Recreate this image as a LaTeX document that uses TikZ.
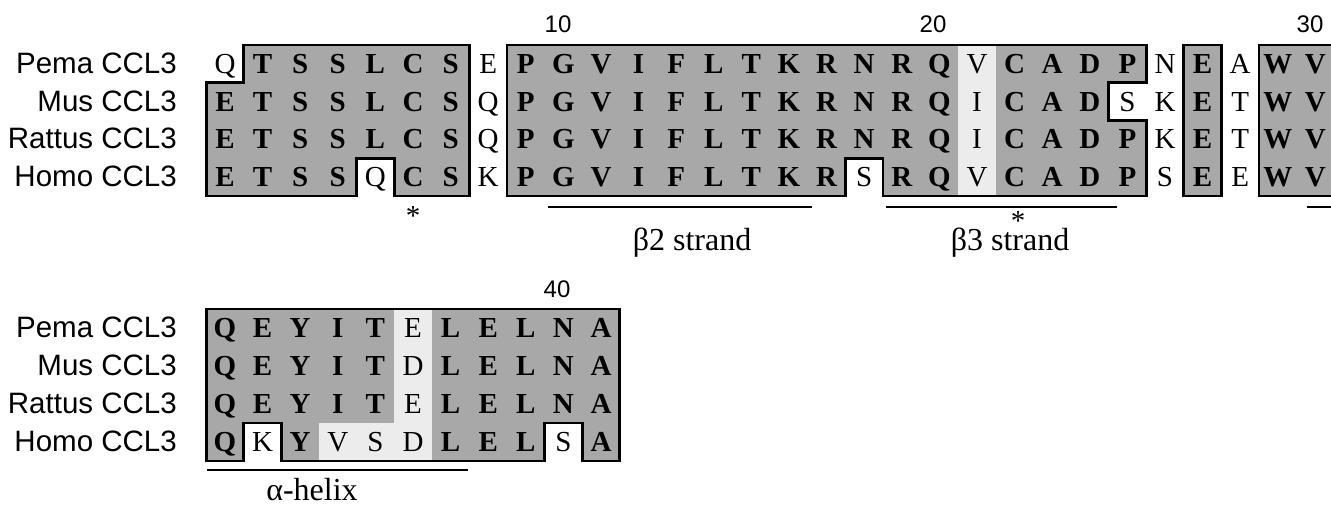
\documentclass[tikz,border=0pt]{standalone}
\usepackage{fontspec}
\setmainfont{Liberation Serif}
\newfontfamily\labfont{Liberation Sans}
\definecolor{darkcell}{RGB}{168,168,168}
\definecolor{lightcell}{RGB}{236,236,236}
% block outlines (in grid units)
\def\blkA{(0.5,0) -- (6.5,0) -- (6.5,4) -- (4.5,4) -- (4.5,3) -- (3.5,3) -- (3.5,4) -- (-0.5,4) -- (-0.5,1) -- (0.5,1) -- cycle}
\def\blkB{(7.5,0) -- (24.5,0) -- (24.5,1) -- (23.5,1) -- (23.5,2) -- (24.5,2) -- (24.5,4) -- (17.5,4) -- (17.5,3) -- (16.5,3) -- (16.5,4) -- (7.5,4) -- cycle}
\def\blkC{(25.5,0) -- (26.5,0) -- (26.5,4) -- (25.5,4) -- cycle}
\def\blkE{(-0.5,0) -- (10.5,0) -- (10.5,4) -- (9.5,4) -- (9.5,3) -- (8.5,3) -- (8.5,4) -- (1.5,4) -- (1.5,3) -- (0.5,3) -- (0.5,4) -- (-0.5,4) -- cycle}
\begin{document}
\begin{tikzpicture}[x=1pt,y=-1pt,
  resn/.style={font=\fontsize{29}{29}\selectfont, inner sep=0pt, anchor=base},
  resb/.style={font=\fontsize{29}{29}\selectfont\bfseries, inner sep=0pt, anchor=base},
  lab/.style={font=\labfont\fontsize{29.5}{29.5}\selectfont, inner sep=0pt, anchor=base east},
  num/.style={font=\labfont\fontsize{24}{24}\selectfont, inner sep=0pt, anchor=base},
  ann/.style={font=\fontsize{32}{32}\selectfont, inner sep=0pt, anchor=base},
  outline/.style={draw=black, line width=2.8pt, line join=miter},
  bar/.style={draw=black, line width=2.8pt},
]
\useasboundingbox (0,0) rectangle (1331,506);
\clip (0,0) rectangle (1331,506);

% ---------- top block ----------
\begin{scope}[shift={(225pt,-45pt)}, x=37.6pt, y=-37.75pt]
  \fill[darkcell] \blkA;
  \fill[darkcell] \blkB;
  \fill[darkcell] \blkC;
  \fill[darkcell] (27.5,0) rectangle (31,4);
  \fill[lightcell] (19.5,0) rectangle (20.5,4);
  \draw[outline] \blkA;
  \draw[outline] \blkB;
  \draw[outline] \blkC;
  \draw[outline] (31,0) -- (27.5,0) -- (27.5,4) -- (31,4);

  \foreach \s/\c [count=\i from 0] in {n/Q,b/T,b/S,b/S,b/L,b/C,b/S,n/E,b/P,b/G,b/V,b/I,b/F,b/L,b/T,b/K,b/R,b/N,b/R,b/Q,n/V,b/C,b/A,b/D,b/P,n/N,b/E,n/A,b/W,b/V}
    {\node[res\s] (a0-\i) at (\i,0.75) {\c};}
  \foreach \s/\c [count=\i from 0] in {b/E,b/T,b/S,b/S,b/L,b/C,b/S,n/Q,b/P,b/G,b/V,b/I,b/F,b/L,b/T,b/K,b/R,b/N,b/R,b/Q,n/I,b/C,b/A,b/D,n/S,n/K,b/E,n/T,b/W,b/V}
    {\node[res\s] (a1-\i) at (\i,1.75) {\c};}
  \foreach \s/\c [count=\i from 0] in {b/E,b/T,b/S,b/S,b/L,b/C,b/S,n/Q,b/P,b/G,b/V,b/I,b/F,b/L,b/T,b/K,b/R,b/N,b/R,b/Q,n/I,b/C,b/A,b/D,b/P,n/K,b/E,n/T,b/W,b/V}
    {\node[res\s] (a2-\i) at (\i,2.75) {\c};}
  \foreach \s/\c [count=\i from 0] in {b/E,b/T,b/S,b/S,n/Q,b/C,b/S,n/K,b/P,b/G,b/V,b/I,b/F,b/L,b/T,b/K,b/R,n/S,b/R,b/Q,n/V,b/C,b/A,b/D,b/P,n/S,b/E,n/E,b/W,b/V}
    {\node[res\s] (a3-\i) at (\i,3.75) {\c};}
\end{scope}

\node[lab] (l1) at (177,73.3) {Pema CCL3};
\node[lab] (l2) at (177,111.1) {Mus CCL3};
\node[lab] (l3) at (177,148.8) {Rattus CCL3};
\node[lab] (l4) at (177,186.6) {Homo CCL3};

\node[num] (n10) at (558,32) {10};
\node[num] (n20) at (933,32) {20};
\node[num] (n30) at (1310,32) {30};

\draw[bar] (548,207) -- (812,207);
\draw[bar] (886,207) -- (1117,207);
\draw[bar] (1307,207) -- (1340,207);

\node[resn] (st1) at (413,225) {\smash{*}};
\node[resn] (st2) at (1018,230) {\smash{*}};
\node[ann] (b2) at (692,250) {β2 strand};
\node[ann] (b3) at (1010,250.5) {β3 strand};

% ---------- bottom block ----------
\begin{scope}[shift={(225pt,-309pt)}, x=37.6pt, y=-38pt]
  \fill[darkcell] \blkE;
  \fill[lightcell] (4.5,0) -- (5.5,0) -- (5.5,4) -- (2.5,4) -- (2.5,3) -- (4.5,3) -- cycle;
  \draw[outline] \blkE;
  \foreach \s/\c [count=\i from 0] in {b/Q,b/E,b/Y,b/I,b/T,n/E,b/L,b/E,b/L,b/N,b/A}
    {\node[res\s] (c0-\i) at (\i,0.75) {\c};}
  \foreach \s/\c [count=\i from 0] in {b/Q,b/E,b/Y,b/I,b/T,n/D,b/L,b/E,b/L,b/N,b/A}
    {\node[res\s] (c1-\i) at (\i,1.75) {\c};}
  \foreach \s/\c [count=\i from 0] in {b/Q,b/E,b/Y,b/I,b/T,n/E,b/L,b/E,b/L,b/N,b/A}
    {\node[res\s] (c2-\i) at (\i,2.75) {\c};}
  \foreach \s/\c [count=\i from 0] in {b/Q,n/K,b/Y,n/V,n/S,n/D,b/L,b/E,b/L,n/S,b/A}
    {\node[res\s] (c3-\i) at (\i,3.75) {\c};}
\end{scope}

\node[lab] (m1) at (177,337.5) {Pema CCL3};
\node[lab] (m2) at (177,375.5) {Mus CCL3};
\node[lab] (m3) at (177,413.5) {Rattus CCL3};
\node[lab] (m4) at (177,451.5) {Homo CCL3};

\node[num] (n40) at (557,297) {40};

\draw[bar] (207,470) -- (468,470);
\node[ann] (ah) at (312,500) {α-helix};
\end{tikzpicture}
\end{document}
